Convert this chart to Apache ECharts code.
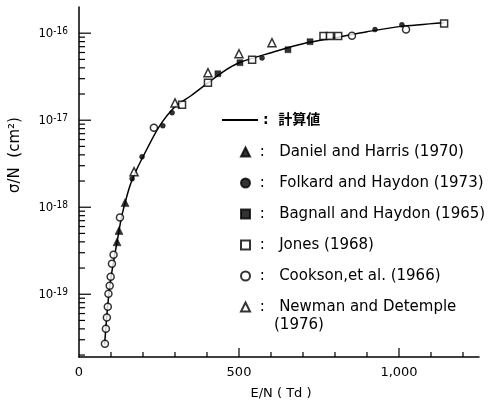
<!DOCTYPE html>
<html>
<head>
<meta charset="utf-8">
<script src="https://cdn.jsdelivr.net/npm/echarts@6/dist/echarts.min.js"></script>
<style>html,body{margin:0;padding:0;background:#fff;}#c{width:498px;height:410px;}</style>
</head>
<body>
<div id="c"></div>
<script>
// ---- data ----
const calcX = [80, 90, 100, 110, 120, 130, 140, 160, 180, 200, 250, 300, 350, 400, 450, 500, 600, 700, 800, 900, 1000, 1140];
const calcY = [2.63e-20, 7.6e-20, 1.55e-19, 2.63e-19, 4.2e-19, 6.8e-19, 9.9e-19, 1.8e-18, 2.7e-18, 3.8e-18, 8.4e-18, 1.43e-17, 1.91e-17, 2.63e-17, 3.6e-17, 4.57e-17, 5.97e-17, 7.57e-17, 8.87e-17, 1.04e-16, 1.19e-16, 1.32e-16];

const danielX = [119, 125, 144];
const danielY = [4.0e-19, 5.4e-19, 1.13e-18];

const folkardX = [166, 197, 262, 291, 572, 925, 1009];
const folkardY = [2.13e-18, 3.8e-18, 8.65e-18, 1.22e-17, 5.2e-17, 1.1e-16, 1.25e-16];

const bagnallX = [434, 503, 653, 722];
const bagnallY = [3.42e-17, 4.58e-17, 6.46e-17, 7.98e-17];

const jonesX = [322, 403, 541, 764, 784, 810, 1141];
const jonesY = [1.51e-17, 2.70e-17, 4.96e-17, 9.3e-17, 9.3e-17, 9.3e-17, 1.29e-16];

const cooksonX = [81, 84, 87, 90, 92, 96, 99, 103, 108, 128, 234, 853, 1022];
const cooksonY = [2.7e-20, 4.0e-20, 5.4e-20, 7.2e-20, 1.01e-19, 1.25e-19, 1.59e-19, 2.24e-19, 2.85e-19, 7.6e-19, 8.2e-18, 9.36e-17, 1.10e-16];

const newmanX = [172, 300, 403, 500, 603];
const newmanY = [2.56e-18, 1.58e-17, 3.52e-17, 5.81e-17, 7.78e-17];

const seriesNames = ['計算値', 'Daniel and Harris (1970)', 'Folkard and Haydon (1973)', 'Bagnall and Haydon (1965)', 'Jones (1968)', 'Cookson,et al. (1966)', 'Newman and Detemple (1976)'];
const xLabelValues = [0, 500, 1000];
const xLabelTexts = ['0', '500', '1,000'];
const yDecades = [-19, -18, -17, -16];
const xMajorTicks = [500, 1000];
const xMinorTicks = [100, 200, 300, 400, 600, 700, 800, 900, 1100, 1200];
const yMinorMult = [2, 3, 4, 5, 6, 7, 8, 9];
const yMinorDecades = [-20, -19, -18, -17];

const X_MIN = 0, X_MAX = 1250, Y_MIN = 1.9e-20, Y_MAX = 2e-16;

// ---- build ----
const pairs = (xs, ys) => xs.map((x, i) => [x, ys[i]]);
const tickData = [];
yDecades.forEach(e => tickData.push([0, Math.pow(10, e), 12, 0]));
yMinorDecades.forEach(e => yMinorMult.forEach(m => {
  const v = m * Math.pow(10, e);
  if (v > Y_MIN && v < Y_MAX) tickData.push([0, v, 6, 0]);
}));
xMajorTicks.forEach(v => tickData.push([v, Y_MIN, 9, 1]));
xMinorTicks.forEach(v => tickData.push([v, Y_MIN, 5, 1]));

const FONT = 'DejaVu Sans, Noto Sans CJK JP, sans-serif';
const NARROW = 'Liberation Sans Narrow, DejaVu Sans Condensed, Liberation Sans, sans-serif';
const chart = echarts.init(document.getElementById('c'), null, {renderer: 'canvas'});

function markerSeries(name, xs, ys, symbol, size, filled) {
  return {
    name, type: 'scatter', data: pairs(xs, ys), symbol, symbolSize: size, z: 5,
    itemStyle: filled ? {color: '#000', borderColor: '#000', borderWidth: 0.5}
                      : {color: '#fff', borderColor: '#000', borderWidth: 1.5}
  };
}

chart.setOption({
  animation: false,
  backgroundColor: '#fff',
  textStyle: {fontFamily: FONT, color: '#000'},
  grid: {left: 79, right: 19, top: 7, bottom: 53},
  xAxis: {
    type: 'value', min: X_MIN, max: X_MAX, interval: 100,
    axisLine: {show: true, lineStyle: {color: '#000', width: 1.5}},
    axisTick: {show: false},
    splitLine: {show: false},
    axisLabel: {
      margin: 9, fontSize: 13, color: '#000', fontFamily: FONT,
      formatter: v => { const i = xLabelValues.indexOf(v); return i >= 0 ? xLabelTexts[i] : ''; }
    },
    name: 'E/N ( Td )', nameLocation: 'middle', nameGap: 30,
    nameTextStyle: {fontSize: 13, color: '#000', fontFamily: FONT, padding: [0, 0, 0, 4]}
  },
  yAxis: {
    type: 'log', logBase: 10, min: Y_MIN, max: Y_MAX,
    axisLine: {show: true, lineStyle: {color: '#000', width: 1.5}},
    axisTick: {show: false},
    splitLine: {show: false},
    minorTick: {show: false},
    axisLabel: {
      margin: 11, color: '#000',
      formatter: v => {
        const l = Math.log10(v), e = Math.round(l);
        if (Math.abs(l - e) > 1e-6) return '';
        return '{b|10}{s|' + e + '}';
      },
      rich: {
        b: {fontSize: 13, fontFamily: NARROW, lineHeight: 13, padding: [8, 0, 0, 0], verticalAlign: 'bottom', color: '#000'},
        s: {fontSize: 10, fontFamily: NARROW, lineHeight: 10, verticalAlign: 'top', color: '#000'}
      }
    },
    name: 'σ/N  (cm²)', nameLocation: 'middle', nameRotate: 90, nameGap: 56,
    nameTextStyle: {fontSize: 15, color: '#000', fontFamily: FONT, padding: [0, 0, 0, 54]}
  },
  legend: [
    {
      data: [{name: seriesNames[0], icon: 'rect'}],
      orient: 'vertical', left: 217, top: 107,
      itemWidth: 36, itemHeight: 2,
      itemStyle: {color: '#000', borderWidth: 0},
      textStyle: {fontSize: 14, lineHeight: 16, fontFamily: FONT, color: '#000', fontWeight: 'bold'},
      formatter: name => ':  ' + name,
      selectedMode: false
    },
    {
      data: seriesNames.slice(1),
      orient: 'vertical', left: 235, top: 139,
      itemWidth: 9, itemHeight: 9, itemGap: 15,
      textStyle: {fontSize: 15, lineHeight: 16, fontFamily: FONT, color: '#000'},
      formatter: name => ' :   ' + (name.indexOf('Newman') === 0 ? 'Newman and Detemple' : name),
      selectedMode: false
    }
  ],
  graphic: [{
    type: 'text', left: 274, top: 318, silent: true,
    style: {text: '(1976)', fontSize: 15, fontFamily: FONT, fill: '#000'}
  }],
  series: [
    {
      name: seriesNames[0], type: 'line', data: pairs(calcX, calcY), smooth: 0.3,
      symbol: 'none', showSymbol: false, z: 3,
      lineStyle: {color: '#000', width: 1.5}, itemStyle: {color: '#000'}
    },
    markerSeries(seriesNames[1], danielX, danielY, 'triangle', 8, true),
    markerSeries(seriesNames[2], folkardX, folkardY, 'circle', 5, true),
    markerSeries(seriesNames[3], bagnallX, bagnallY, 'rect', 6, true),
    markerSeries(seriesNames[4], jonesX, jonesY, 'rect', 7, false),
    markerSeries(seriesNames[5], cooksonX, cooksonY, 'circle', 7, false),
    markerSeries(seriesNames[6], newmanX, newmanY, 'triangle', 8, false),
    {
      name: 'ticks', type: 'custom', silent: true, z: 4,
      data: tickData,
      encode: {x: 0, y: 1},
      renderItem: (params, api) => {
        const p = api.coord([api.value(0), api.value(1)]);
        const len = api.value(2), dir = api.value(3);
        const shape = dir === 0
          ? {x1: p[0], y1: p[1], x2: p[0] + len, y2: p[1]}
          : {x1: p[0], y1: p[1], x2: p[0], y2: p[1] - len};
        return {type: 'line', shape, style: {stroke: '#000', lineWidth: 1.2}};
      }
    }
  ]
});
</script>
</body>
</html>
